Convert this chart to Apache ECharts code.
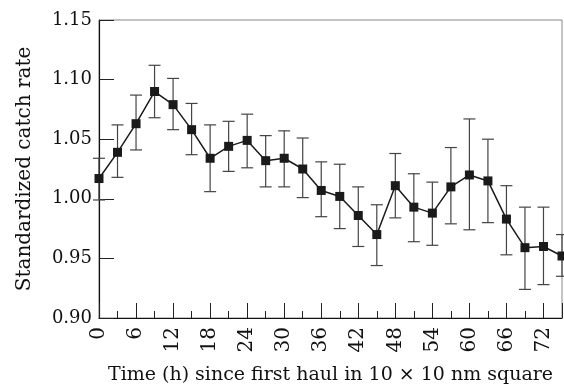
<!DOCTYPE html>
<html>
<head>
<meta charset="utf-8">
<script src="https://cdn.jsdelivr.net/npm/echarts@6/dist/echarts.min.js"></script>
<style>
  html, body {margin: 0; padding: 0; background: #fff;}
  #chart {width: 564px; height: 389px;}
</style>
</head>
<body>
<div id="chart"></div>
<script>
const hours = [0, 3, 6, 9, 12, 15, 18, 21, 24, 27, 30, 33, 36, 39, 42, 45, 48, 51, 54, 57, 60, 63, 66, 69, 72, 75];
const rate = [1.017, 1.039, 1.063, 1.090, 1.079, 1.058, 1.034, 1.044, 1.049, 1.032, 1.034, 1.025, 1.007,
  1.002, 0.986, 0.970, 1.011, 0.993, 0.988, 1.010, 1.020, 1.015, 0.983, 0.959, 0.960, 0.952];
const upper = [1.034, 1.062, 1.087, 1.112, 1.101, 1.080, 1.062, 1.065, 1.071, 1.053, 1.057, 1.051, 1.031,
  1.029, 1.010, 0.995, 1.038, 1.021, 1.014, 1.043, 1.067, 1.050, 1.011, 0.993, 0.993, 0.970];
const lower = [0.999, 1.018, 1.041, 1.068, 1.058, 1.037, 1.006, 1.023, 1.026, 1.010, 1.010, 1.001, 0.985,
  0.975, 0.960, 0.944, 0.984, 0.964, 0.961, 0.979, 0.974, 0.980, 0.953, 0.924, 0.928, 0.935];
const xTicks = [0, 6, 12, 18, 24, 30, 36, 42, 48, 54, 60, 66, 72];

const font = 'DejaVu Serif';
const chart = echarts.init(document.getElementById('chart'));

chart.setOption({
  animation: false,
  grid: {
    left: 99, right: 2, top: 20, bottom: 71,
    outerBoundsMode: 'none',
    show: true, borderColor: '#888', borderWidth: 1
  },
  xAxis: [
    {
      type: 'value', min: 0, max: 75, interval: 3,
      name: 'Time (h) since first haul in 10 × 10 nm square',
      nameLocation: 'middle', nameGap: 48,
      nameTextStyle: {fontFamily: font, fontSize: 19, color: '#111'},
      axisLine: {show: true, lineStyle: {color: '#111', width: 1.2}},
      axisTick: {inside: true, length: 7, lineStyle: {color: '#222'}},
      axisLabel: {
        rotate: 90, margin: 9, fontFamily: font, fontSize: 20, color: '#111',
        formatter: v => (xTicks.indexOf(v) >= 0 ? String(v) : '')
      },
      splitLine: {show: false}
    },
    {
      type: 'value', min: 0, max: 75, interval: 6, position: 'bottom',
      axisLine: {show: false},
      axisTick: {inside: true, length: 15, lineStyle: {color: '#222'}},
      axisLabel: {show: false},
      splitLine: {show: false}
    }
  ],
  yAxis: {
    type: 'value', min: 0.9, max: 1.15, interval: 0.05,
    name: 'Standardized catch rate',
    nameLocation: 'middle', nameGap: 64,
    nameTextStyle: {fontFamily: font, fontSize: 20, color: '#111'},
    axisLine: {show: true, lineStyle: {color: '#111', width: 1.2}},
    axisTick: {inside: true, length: 15, lineStyle: {color: '#222'}},
    axisLabel: {
      margin: 7, fontFamily: font, fontSize: 18, color: '#111',
      formatter: v => v.toFixed(2)
    },
    splitLine: {show: false}
  },
  series: [
    {
      type: 'custom',
      xAxisIndex: 0,
      data: hours.map((h, i) => [h, lower[i], upper[i]]),
      renderItem(params, api) {
        const lo = api.coord([api.value(0), api.value(1)]);
        const hi = api.coord([api.value(0), api.value(2)]);
        const w = 6;
        const style = {stroke: '#444', lineWidth: 1.2};
        return {
          type: 'group',
          children: [
            {type: 'line', shape: {x1: hi[0], y1: hi[1], x2: lo[0], y2: lo[1]}, style},
            {type: 'line', shape: {x1: hi[0] - w, y1: hi[1], x2: hi[0] + w, y2: hi[1]}, style},
            {type: 'line', shape: {x1: lo[0] - w, y1: lo[1], x2: lo[0] + w, y2: lo[1]}, style}
          ]
        };
      },
      z: 2
    },
    {
      type: 'line',
      xAxisIndex: 0,
      data: hours.map((h, i) => [h, rate[i]]),
      symbol: 'rect',
      symbolSize: 9,
      clip: false,
      itemStyle: {color: '#1a1a1a'},
      lineStyle: {color: '#1a1a1a', width: 1.5},
      z: 3
    }
  ]
});
</script>
</body>
</html>
